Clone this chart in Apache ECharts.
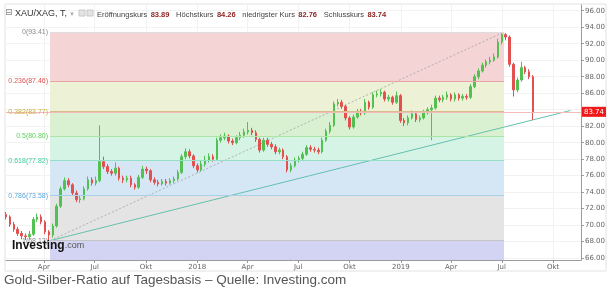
<!DOCTYPE html>
<html><head><meta charset="utf-8">
<script src="https://cdn.jsdelivr.net/npm/echarts@6/dist/echarts.min.js"></script>
<style>html,body{margin:0;padding:0;background:#fff}#c{width:608px;height:290px}</style>
</head><body><div id="c"></div>
<script>
const weeks = ['2017-01-23','2017-01-30','2017-02-06','2017-02-13','2017-02-20','2017-02-27','2017-03-06','2017-03-13','2017-03-20','2017-03-27',
'2017-04-03','2017-04-10','2017-04-17','2017-04-24','2017-05-01','2017-05-08','2017-05-15','2017-05-22','2017-05-29','2017-06-05',
'2017-06-12','2017-06-19','2017-06-26','2017-07-03','2017-07-10','2017-07-17','2017-07-24','2017-07-31','2017-08-07','2017-08-14',
'2017-08-21','2017-08-28','2017-09-04','2017-09-11','2017-09-18','2017-09-25','2017-10-02','2017-10-09','2017-10-16','2017-10-23',
'2017-10-30','2017-11-06','2017-11-13','2017-11-20','2017-11-27','2017-12-04','2017-12-11','2017-12-18','2017-12-25','2018-01-01',
'2018-01-08','2018-01-15','2018-01-22','2018-01-29','2018-02-05','2018-02-12','2018-02-19','2018-02-26','2018-03-05','2018-03-12',
'2018-03-19','2018-03-26','2018-04-02','2018-04-09','2018-04-16','2018-04-23','2018-04-30','2018-05-07','2018-05-14','2018-05-21',
'2018-05-28','2018-06-04','2018-06-11','2018-06-18','2018-06-25','2018-07-02','2018-07-09','2018-07-16','2018-07-23','2018-07-30',
'2018-08-06','2018-08-13','2018-08-20','2018-08-27','2018-09-03','2018-09-10','2018-09-17','2018-09-24','2018-10-01','2018-10-08',
'2018-10-15','2018-10-22','2018-10-29','2018-11-05','2018-11-12','2018-11-19','2018-11-26','2018-12-03','2018-12-10','2018-12-17',
'2018-12-24','2018-12-31','2019-01-07','2019-01-14','2019-01-21','2019-01-28','2019-02-04','2019-02-11','2019-02-18','2019-02-25',
'2019-03-04','2019-03-11','2019-03-18','2019-03-25','2019-04-01','2019-04-08','2019-04-15','2019-04-22','2019-04-29','2019-05-06',
'2019-05-13','2019-05-20','2019-05-27','2019-06-03','2019-06-10','2019-06-17','2019-06-24','2019-07-01','2019-07-08','2019-07-15',
'2019-07-22','2019-07-29','2019-08-05','2019-08-12','2019-08-19','2019-08-26'];
const opens = [71.3,71.0,70.1,69.5,69.0,68.7,68.6,68.9,70.7,71.0,
70.4,69.2,68.8,69.9,72.3,74.4,75.4,74.9,73.9,73.1,
73.2,74.4,75.5,75.1,75.4,77.7,77.1,76.5,76.3,76.9,
75.7,75.5,75.7,74.9,74.6,75.8,76.8,76.6,75.5,75.2,
75.0,75.3,75.1,75.4,75.6,76.4,78.3,78.9,78.4,77.2,
76.7,77.4,77.9,78.3,78.0,80.3,80.6,80.8,80.2,80.0,
80.6,80.9,81.3,81.5,81.2,80.4,79.1,80.3,79.8,79.5,
78.9,79.1,78.3,76.7,77.2,77.9,78.1,78.6,79.4,79.2,
79.1,78.9,80.3,81.4,82.1,84.7,84.9,84.4,83.0,81.9,
83.1,83.8,83.6,84.9,84.3,85.8,85.9,86.1,85.3,85.5,
84.9,85.7,82.7,82.4,83.0,83.5,82.8,83.0,83.7,84.0,
84.2,85.4,85.2,85.5,85.8,85.3,85.8,85.4,85.6,85.5,
86.8,88.0,88.7,89.4,89.8,90.0,90.4,92.2,93.1,92.8,
89.5,86.4,87.6,89.1,88.6,88.0];
const closes = [71.0,70.1,69.5,69.0,68.7,68.6,68.9,70.7,71.0,70.4,
69.2,68.8,69.9,72.3,74.4,75.4,74.9,73.9,73.1,73.2,
74.4,75.5,75.1,75.4,77.7,77.1,76.5,76.3,76.9,75.7,
75.5,75.7,74.9,74.6,75.8,76.8,76.6,75.5,75.2,75.0,
75.3,75.1,75.4,75.6,76.4,78.3,78.9,78.4,77.2,76.7,
77.4,77.9,78.3,78.0,80.3,80.6,80.8,80.2,80.0,80.6,
80.9,81.3,81.5,81.2,80.4,79.1,80.3,79.8,79.5,78.9,
79.1,78.3,76.7,77.2,77.9,78.1,78.6,79.4,79.2,79.1,
78.9,80.3,81.4,82.1,84.7,84.9,84.4,83.0,81.9,83.1,
83.8,83.6,84.9,84.3,85.8,85.9,86.1,85.3,85.5,84.9,
85.7,82.7,82.4,83.0,83.5,82.8,83.0,83.7,84.0,84.2,
85.4,85.2,85.5,85.8,85.3,85.8,85.4,85.6,85.5,86.8,
88.0,88.7,89.4,89.8,90.0,90.4,92.2,93.1,92.8,89.5,
86.4,87.6,89.1,88.6,88.0,83.74];
const lows = [70.7,69.8,69.2,68.7,68.3,68.2,68.3,68.7,70.4,70.1,
68.9,68.12,68.5,69.7,72.1,74.2,74.6,73.6,72.8,72.7,
73.0,74.2,74.8,74.8,75.2,76.8,76.2,76.0,76.0,75.4,
75.1,75.2,74.6,74.3,74.4,75.6,76.2,75.2,74.9,74.7,
74.8,74.8,74.9,75.1,75.4,76.2,78.0,78.1,76.9,76.4,
76.5,77.1,77.6,77.7,77.8,80.0,80.3,79.9,79.7,79.8,
80.3,80.6,81.0,80.9,80.1,78.8,78.9,79.5,79.2,78.6,
78.6,78.0,76.4,76.4,77.0,77.6,77.8,78.4,78.9,78.8,
78.6,78.7,80.1,81.1,81.9,84.4,84.1,82.7,81.6,81.7,
82.9,83.3,83.4,84.0,84.1,85.5,85.6,85.0,85.0,84.6,
84.7,82.4,82.0,82.1,82.8,82.5,82.5,82.8,83.4,80.3,
84.0,84.9,84.9,85.2,85.0,85.0,85.1,85.1,85.2,85.3,
86.6,87.7,88.5,89.1,89.5,89.8,90.2,91.9,92.4,89.2,
85.6,86.1,87.4,88.3,87.7,82.76];
const highs = [71.6,71.2,70.4,69.8,69.3,69.0,69.3,71.0,71.4,71.3,
70.6,69.4,70.2,72.6,74.7,75.8,75.7,75.1,74.2,73.6,
74.7,75.9,75.8,75.9,82.1,78.3,77.4,76.8,77.6,77.1,
76.0,76.0,76.0,75.1,76.1,77.2,77.1,76.8,75.8,75.5,
75.6,75.6,75.7,75.9,76.7,78.6,79.3,79.2,78.6,77.5,
77.8,78.4,78.7,78.6,80.6,81.0,81.2,81.0,80.5,80.9,
81.3,81.7,82.5,81.8,81.5,80.6,80.6,80.6,80.1,79.8,
79.4,79.3,78.5,77.5,78.2,78.4,78.9,79.7,79.7,79.5,
79.4,80.6,81.7,82.5,85.0,85.3,85.2,84.6,83.2,83.4,
84.1,84.1,85.3,85.1,86.1,86.3,86.5,86.3,85.8,85.7,
86.2,85.9,83.0,83.3,83.9,83.7,83.3,84.0,84.3,84.6,
85.7,85.7,85.8,86.2,86.0,86.1,86.0,85.9,85.9,87.1,
88.3,89.0,89.7,90.1,90.4,90.8,92.6,93.41,93.3,93.0,
89.7,87.9,89.8,89.3,88.9,88.2];
const fibLevels = ['0','0.236','0.382','0.5','0.618','0.786','1'];
const fibValues = [93.41,87.46,83.77,80.80,77.82,73.58,68.12];
const fibStart = '2017-04-12';
const fibEnd = '2019-07-05';
const trendStart = ['2017-04-12', 68.12];
const trendEnd = ['2019-11-01', 83.9];
const lastPrice = 83.74;
const header = {open: '83.89', high: '84.26', low: '82.76', close: '83.74'};
const yTicks = [66,68,70,72,74,76,78,80,82,84,86,88,90,92,94,96];
const xTicks = ['2017-04-01','2017-07-01','2017-10-01','2018-01-01','2018-04-01','2018-07-01','2018-10-01','2019-01-01','2019-04-01','2019-07-01','2019-10-01'];
const monthNames = ['Jan','Feb','Mär','Apr','Mai','Jun','Jul','Aug','Sep','Okt','Nov','Dez'];

const yMin = 65.78, yMax = 96.69;
const xMinDate = '2017-01-23', xMaxDate = '2019-11-20';

function toTs(s){const p=s.split('-').map(Number);return Date.UTC(p[0],p[1]-1,p[2]);}

const bandColors = ['#f4d4d4','#edf2d6','#d9f1d0','#d5f4e6','#d5e7f4','#e4e4e4','#d3d3f3'];
const lineColors = ['#dddddd','#e9a3a3','#d8bb8c','#ace4a4','#95dec8','#a9cfe9','#c4c4c4'];
const labelColors = ['#8a8a8a','#d9534f','#c8b040','#5ccf5c','#3ccd9f','#5aa7de','#8a8a8a'];

const tsS = toTs(fibStart), tsE = toTs(fibEnd);
const bandData = [];
for (let i=0;i<fibValues.length;i++){
  const top = fibValues[i];
  const bot = i<fibValues.length-1 ? fibValues[i+1] : yMin;
  bandData.push([{xAxis: tsS, yAxis: top, itemStyle:{color: bandColors[i]}},{xAxis: tsE, yAxis: bot}]);
}
const levelLines = fibValues.map((v,i)=>[
  {coord:[tsS, v], lineStyle:{color: lineColors[i], width: 1, type:'solid'},
   label:{show:true, position:'start', distance:2, formatter: fibLevels[i]+'('+v.toFixed(2)+')', color: labelColors[i], fontSize: 7, fontFamily:'Liberation Sans'}},
  {coord:[tsE, v]}
]);

const candles = weeks.map((w,i)=>[toTs(w), opens[i], closes[i], lows[i], highs[i]]);

const chart = echarts.init(document.getElementById('c'), null, {renderer:'canvas'});
chart.setOption({
  animation: false,
  backgroundColor: '#fff',
  grid: {left: 6, right: 23, top: 5, bottom: 30, containLabel: false},
  xAxis: {
    type: 'value', min: toTs(xMinDate), max: toTs(xMaxDate), scale: true,
    axisLine: {show: true, lineStyle: {color: '#9a9a9a'}},
    axisTick: {show: true, customValues: xTicks.map(toTs), length: 3, lineStyle:{color:'#9a9a9a'}},
    axisLabel: {customValues: xTicks.map(toTs), fontSize: 7, color: '#666', margin: 4, fontFamily:'DejaVu Sans',
      formatter: function(v){const d=new Date(v);return d.getUTCMonth()===0?String(d.getUTCFullYear()):monthNames[d.getUTCMonth()];}},
    splitLine: {show: true, lineStyle: {color: '#f2f2f2'}}
  },
  yAxis: {
    type: 'value', position: 'right', min: yMin, max: yMax, scale: true,
    axisLine: {show: true, lineStyle: {color: '#9a9a9a'}},
    axisTick: {show: true, customValues: yTicks, length: 3, lineStyle:{color:'#9a9a9a'}},
    axisLabel: {customValues: yTicks, fontSize: 7, color: '#666', margin: 4, fontFamily:'DejaVu Sans',
      formatter: function(v){return v.toFixed(2);}},
    splitLine: {show: true, lineStyle: {color: '#f2f2f2'}}
  },
  series: [
    {type:'line', name:'fibBands', data: [], z: 1, silent: true,
     markArea: {silent: true, data: bandData},
     markLine: {silent: true, symbol: ['none','none'], data: levelLines}},
    {type:'line', name:'fibDiag', z: 2, silent: true, symbol:'none',
     data: [[tsS, fibValues[6]],[tsE, fibValues[0]]],
     lineStyle: {color:'#b0b0b0', width: 1, type: [2,2]}},
    {type:'line', name:'trend', z: 2, silent: true, symbol:'none',
     data: [[toTs(trendStart[0]), trendStart[1]],[toTs(trendEnd[0]), trendEnd[1]]],
     lineStyle: {color:'#67c1b0', width: 1}},
    {type:'candlestick', name:'XAU/XAG', z: 3, data: candles, barWidth: 2,
     itemStyle: {color:'#52c152', color0:'#e35050', borderColor:'#52c152', borderColor0:'#e35050', borderWidth: 1},
     markLine: {silent: true, symbol:['none','none'], z: 5,
       data: [{yAxis: lastPrice, lineStyle:{color:'#f5baba', width:1, type:'solid'},
         label:{show:true, position:'end', distance: 1, formatter: lastPrice.toFixed(2), color:'#fff', backgroundColor:'#f01818',
           padding:[2,2,1,2], fontSize: 7, fontFamily:'DejaVu Sans'}}]}}
  ],
  graphic: [
    {type:'rect', shape:{x:5,y:4,width:601,height:267}, style:{fill:'none', stroke:'#e2e2e2', lineWidth:1}, z: 0, silent:true},
    {type:'text', left: 5, top: 8, style:{text:'⊟', fontSize: 9, fill:'#888', fontFamily:'DejaVu Sans'}, z: 10},
    {type:'text', left: 15, top: 8, style:{text:'{a|XAU/XAG, T,} {b|▾}', rich:{a:{fontSize:9, fill:'#333', fontFamily:'Liberation Sans'}, b:{fontSize:7, fill:'#aaa', fontFamily:'DejaVu Sans'}}}, z: 10},
    {type:'rect', shape:{x:79,y:10,width:6,height:6}, style:{fill:'#e4e4e4', stroke:'#c8c8c8'}, z: 10},
    {type:'rect', shape:{x:87,y:10,width:6,height:6}, style:{fill:'#e4e4e4', stroke:'#c8c8c8'}, z: 10},
    {type:'text', left: 97, top: 9, style:{
      text:'{l|Eröffnungskurs} {v|'+header.open+'}  {l|Höchstkurs} {v|'+header.high+'}  {l|niedrigster Kurs} {v|'+header.low+'}  {l|Schlusskurs} {v|'+header.close+'}',
      rich:{l:{fontSize:7.5, fill:'#444', fontFamily:'Liberation Sans'}, v:{fontSize:7.5, fontWeight:'bold', fill:'#8e2424', fontFamily:'Liberation Sans'}}}, z: 10},
    {type:'text', left: 12, top: 240, style:{text:'{a|Investing}{b|.com}', rich:{a:{fontSize:12, fontWeight:'bold', fill:'#111', fontFamily:'Liberation Sans'}, b:{fontSize:9, fill:'#555', fontFamily:'Liberation Sans'}}}, z: 10},
    {type:'text', left: 4, top: 273, style:{text:'Gold-Silber-Ratio auf Tagesbasis – Quelle: Investing.com', fontSize: 13.5, fill:'#555', fontFamily:'Liberation Sans'}, z: 10}
  ]
});
</script></body></html>
